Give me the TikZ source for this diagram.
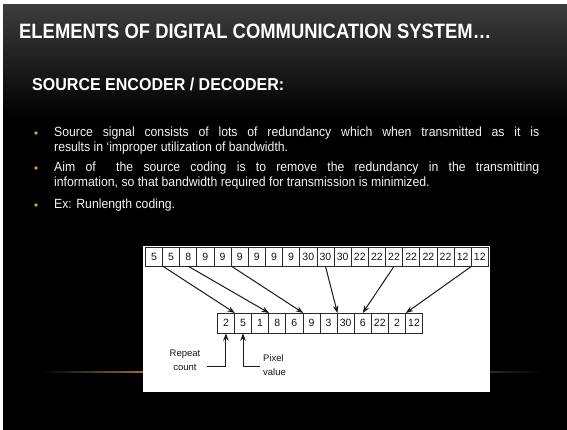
\documentclass[tikz,border=0pt]{standalone}
\usepackage{fontspec}
\usepackage{graphicx}
\setmainfont{Liberation Sans}
\newfontfamily\bodyfont[FakeStretch=0.92]{Liberation Sans}
\usetikzlibrary{arrows.meta,calc}
\definecolor{hdrtop}{HTML}{3C3C3C}
\definecolor{bodytext}{HTML}{F4F4F4}
\definecolor{bulletor}{HTML}{E0A030}
\definecolor{glowor}{HTML}{A06A2A}
\definecolor{glowdim}{HTML}{302818}
\definecolor{cellline}{HTML}{2A2A2A}
\definecolor{celltext}{HTML}{151515}
\definecolor{arrline}{HTML}{1A1A1A}
\begin{document}
\begin{tikzpicture}[x=1pt,y=-1pt,
  cell/.style={draw=cellline, line width=0.75pt, minimum width=17.15pt, minimum height=18.5pt,
    inner sep=0pt, font=\fontsize{10.5}{11}\selectfont, text=celltext, anchor=north west},
  arr/.style={-{Stealth[length=7.5pt,width=5.5pt]}, line width=1pt, draw=arrline},
  lbl/.style={font=\fontsize{9.5}{14}\selectfont, text=celltext, inner sep=0pt},
  bodyline/.style={anchor=base west, inner sep=0pt, text=bodytext, font=\bodyfont\fontsize{13.3}{15}\selectfont},
  bul/.style={circle, fill=bulletor, minimum size=3.8pt, inner sep=0pt}
]
\useasboundingbox (0,0) rectangle (567,430);
\fill[white] (0,0) rectangle (567,430);
\fill[black] (3,5) rectangle (567,430);
\shade[top color=hdrtop, bottom color=black] (3,5) rectangle (567,118);

% glow line
\shade[left color=black, right color=glowor] (40,371.2) rectangle (143,372.8);
\shade[left color=glowdim, right color=black] (490,371.3) rectangle (545,372.7);

% title and subtitle
\node[anchor=base west, inner sep=0pt, text=white] (title) at (19,39)
  {\resizebox{472pt}{14.5pt}{\bfseries ELEMENTS OF DIGITAL COMMUNICATION SYSTEM…}};
\node[anchor=base west, inner sep=0pt, text=white] (sub) at (32,91)
  {\resizebox{252pt}{12.5pt}{\bfseries SOURCE ENCODER / DECODER:}};

% bullets
\node[bul] (p1) at (36,133) {};
\node[bodyline] (l1) at (54,137) {\makebox[485pt][s]{Source signal consists of lots of redundancy which when transmitted as it is}};
\node[bodyline] (l2) at (54,152) {results in ‘improper utilization of bandwidth.};
\node[bul] (p2) at (36,168) {};
\node[bodyline] (l3) at (54,172) {\makebox[485pt][s]{Aim of \ the source coding is to remove the redundancy in the transmitting}};
\node[bodyline] (l4) at (54,187) {information, so that bandwidth required for transmission is minimized.};
\node[bul] (p3) at (36,205) {};
\node[bodyline] (l5) at (54,209) {Ex: Runlength coding.};

% diagram
\fill[white] (143,246) rectangle (490,392);
\foreach \v [count=\i] in {5,5,8,9,9,9,9,9,9,30,30,30,22,22,22,22,22,22,12,12}
  \node[cell] (t\i) at ({145+(\i-1)*17.15},247) {\v};
\foreach \v [count=\i] in {2,5,1,8,6,9,3,30,6,22,2,12}
  \node[cell, minimum width=17.1pt, minimum height=19.5pt] (b\i) at ({217+(\i-1)*17.1},313) {\v};

\draw[arr] (t1.south east) -- (b1.north east);
\draw[arr] (t3.south) -- (b3.north east);
\draw[arr] (t5.south east) -- (b5.north east);
\draw[arr] (t11.south) -- (b7.north east);
\draw[arr] (t15.south) -- (b9.north);
\draw[arr] (t19.south east) -- (b11.north east);

\node[lbl, align=center] (rep) at (185,360.5) {Repeat\\count};
\node[lbl, align=left, anchor=west] (pix) at (263,365.5) {Pixel\\value};
\coordinate (rcs) at (207,366);
\coordinate (pvs) at (260,366);
\draw[arr] (rcs) -| (b1.south);
\draw[arr] (pvs) -| (b2.south);
\end{tikzpicture}
\end{document}
